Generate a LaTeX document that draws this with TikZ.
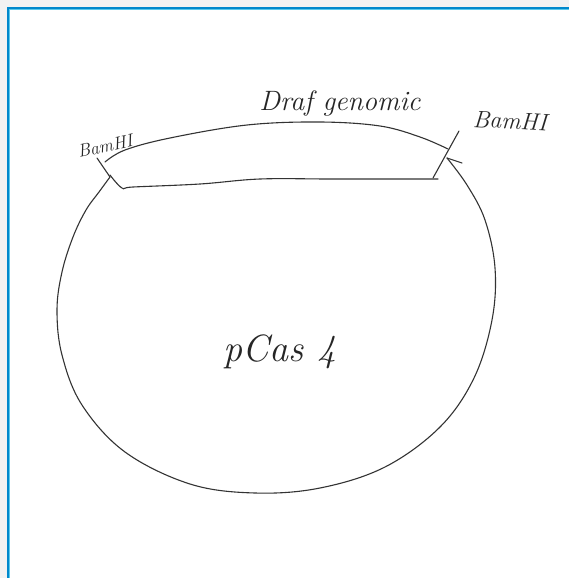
\documentclass[tikz,border=0pt]{standalone}
\usepackage{fontspec}
\setmainfont{Latin Modern Roman}
\begin{document}
\begin{tikzpicture}[x=1pt,y=-1pt,
  sketch/.style={line width=1.1pt,line cap=round,line join=round,color=black!80},
  hand/.style={text=black!85,inner sep=0pt}]
\useasboundingbox (0,0) rectangle (569,578);
\fill[black!5] (0,0) rectangle (569,578);
\fill[white] (8,8) rectangle (569,578);
\draw[line width=2pt,color={rgb,255:red,0;green,136;blue,204}] (8.3,578) -- (8.3,8.3) -- (569,8.3);
\draw[line width=1pt,color={rgb,255:red,90;green,200;blue,235}] (9.8,578) -- (9.8,9.8) -- (569,9.8);
% plasmid backbone
\draw[sketch] plot[smooth,tension=0.6] coordinates {(110,177) (99,192) (86,210) (73,237) (62,272) (57,310) (62,355) (82,405) (125,452) (190,484) (255,493) (320,488) (385,467) (440,427) (474,378) (492,320) (495,268) (485,220) (467,185) (447,158)};
\draw[sketch] (447,158) -- (462,163);
% insert upper line
\draw[sketch] plot[smooth,tension=0.6] coordinates {(105,162) (125,150) (170,138) (247,125) (320,122) (380,126) (420,137) (448,149)};
% insert lower line
\draw[sketch] plot[smooth,tension=0.6] coordinates {(110,175) (122,188) (133,187) (200,184) (260,179) (330,179) (400,179) (438,179)};
% BamHI ticks
\draw[sketch] (97,158) -- (110,177);
\draw[sketch] (459,131) -- (433,178);
% labels
\node[hand,font=\itshape\fontsize{18}{20}\selectfont,rotate=12] (b1) at (105,146) {BamHI};
\node[hand,font=\itshape\fontsize{24}{26}\selectfont,rotate=-3] (b2) at (510,121) {BamHI};
\node[hand,font=\itshape\fontsize{28}{30}\selectfont] (dg) at (340,103) {Draf genomic};
\node[hand,font=\itshape\fontsize{38}{40}\selectfont] (pc) at (280,352) {pCas 4};
\end{tikzpicture}
\end{document}
